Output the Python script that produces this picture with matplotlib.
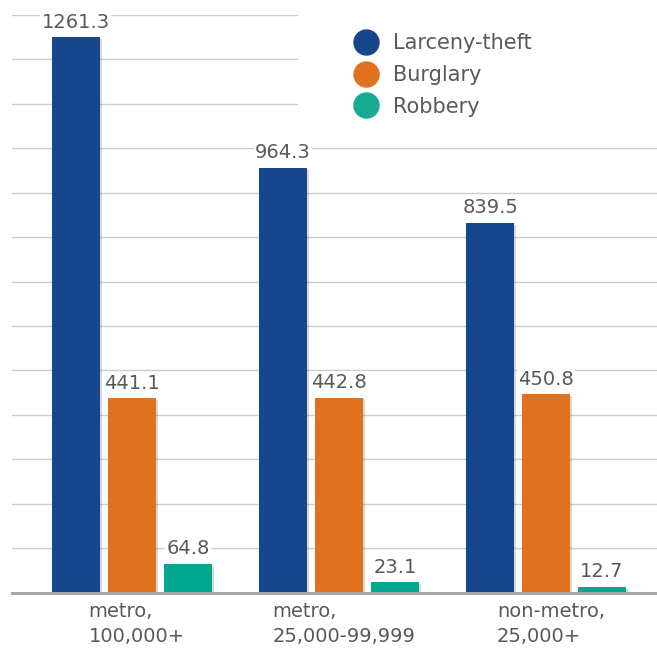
import matplotlib
matplotlib.use("Agg")
import matplotlib.pyplot as plt
import matplotlib.patheffects as pe
import matplotlib.transforms as mtrans
from matplotlib.lines import Line2D
from matplotlib.patches import Rectangle
import numpy as np

categories = ["metro,\n100,000+", "metro,\n25,000-99,999", "non-metro,\n25,000+"]
series_names = ["Larceny-theft", "Burglary", "Robbery"]
larceny = [1261.3, 964.3, 839.5]
burglary = [441.1, 442.8, 450.8]
robbery = [64.8, 23.1, 12.7]
series_values = [larceny, burglary, robbery]
colors = ["#17468d", "#e0711f", "#00a88e"]
legend_colors = ["#17468d", "#e0711f", "#17ab94"]

text_color = "#595959"

fig = plt.figure(figsize=(6.57, 6.58), dpi=100)
ax = fig.add_axes([12 / 657, (658 - 592.5) / 658, 1 - 12 / 657, (592.5 - 15) / 658])

x = np.arange(len(categories))
width = 0.2326
step = 0.2703

ymax = 1312
ax.set_ylim(0, ymax)
ax.set_xlim(-0.5787, 2.5357)
ax.set_yticks(np.arange(1, 14) * ymax / 13)
ax.yaxis.grid(True, color="#cccccc", linewidth=1.0, zorder=0)
ax.set_axisbelow(True)
ax.tick_params(axis="y", left=False, labelleft=False)
ax.tick_params(axis="x", length=0, pad=7, labelsize=14, labelcolor=text_color)
for s in ["top", "right", "left"]:
    ax.spines[s].set_visible(False)
ax.spines["bottom"].set_color("#a6a6a6")
ax.spines["bottom"].set_linewidth(2.2)
ax.spines["bottom"].set_zorder(3)

shadow = [pe.SimplePatchShadow(offset=(1.2, -1.2), shadow_rgbFace="#000000", alpha=0.15), pe.Normal()]

for i, (vals, c) in enumerate(zip(series_values, colors)):
    pos = x + (i - 1) * step
    bars = ax.bar(pos, vals, width=width, color=c, zorder=2)
    for b in bars:
        b.set_path_effects(shadow)
    for p, v in zip(pos, vals):
        ax.annotate(f"{v}", (p, v), xytext=(0, 4), textcoords="offset points",
                    ha="center", va="bottom", fontsize=14, color=text_color, zorder=4,
                    bbox=dict(boxstyle="square,pad=0.08", fc="white", ec="none"))

ax.set_xticks(x)
ax.set_xticklabels(categories, multialignment="left", linespacing=1.4)
offset = mtrans.ScaledTranslation(5 / 100, 0, fig.dpi_scale_trans)
for lab in ax.get_xticklabels():
    lab.set_transform(lab.get_transform() + offset)

# white area behind the legend
ax.add_patch(Rectangle((0.443, 0.81), 0.6, 0.3, transform=ax.transAxes,
                       facecolor="white", edgecolor="none", zorder=1, clip_on=False))

handles = [Line2D([0], [0], marker="o", linestyle="none", markersize=18,
                  markerfacecolor=c, markeredgecolor=c) for c in legend_colors]
leg = ax.legend(handles, series_names, loc="upper left", bbox_to_anchor=(353 / 657, 1 - 33 / 658),
                bbox_transform=fig.transFigure, frameon=False, fontsize=15,
                labelcolor=text_color, handlelength=1.2, handletextpad=0.7,
                labelspacing=0.57, borderpad=0, borderaxespad=0)
leg.set_zorder(5)

fig.savefig("out.png", dpi=100)
